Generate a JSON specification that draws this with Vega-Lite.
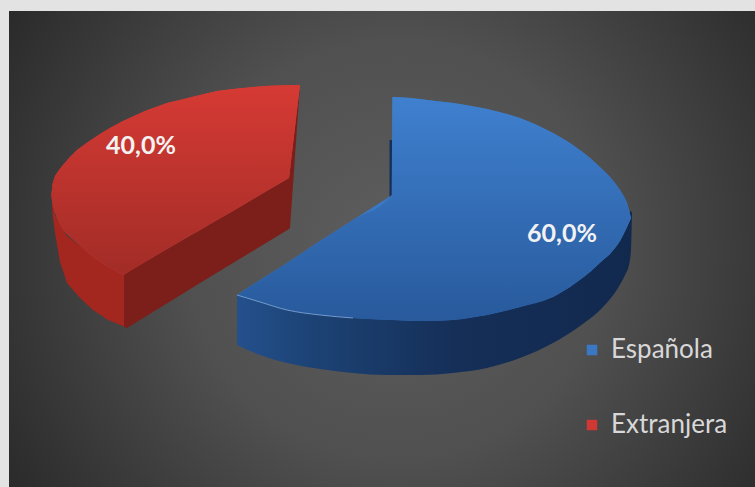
{
"$schema":"https://vega.github.io/schema/vega-lite/v6.json",
"width":746,"height":476,"autosize":"none",
"padding":{"left":9,"top":11,"right":0,"bottom":0},
"background":"#e3e3e3",
"view":{"stroke":null,"fill":{"gradient":"radial","x1":0.52,"y1":0.5,"r1":0,"x2":0.52,"y2":0.5,"r2":0.63,"stops":[{"offset":0,"color":"#5e5e5e"},{"offset":0.45,"color":"#505050"},{"offset":1,"color":"#282828"}]}},
"datasets":{
"ladoAzul":[{"x":228,"y":192,"y2":142},{"x":251,"y":189,"y2":132},{"x":278,"y":187,"y2":124},{"x":311,"y":182,"y2":118},{"x":344,"y":177,"y2":114},{"x":378,"y":174,"y2":112},{"x":411,"y":172,"y2":112},{"x":444,"y":173,"y2":114},{"x":478,"y":177,"y2":119},{"x":511,"y":187,"y2":129},{"x":544,"y":197,"y2":144},{"x":571,"y":212,"y2":161},{"x":594,"y":232,"y2":180},{"x":609,"y":252,"y2":199},{"x":616,"y":267,"y2":212},{"x":620,"y":274,"y2":222},{"x":622,"y":276,"y2":237},{"x":623,"y":274,"y2":274}],
"cantoAzul":[{"x":380.5,"y":347,"y2":290},{"x":383,"y":347,"y2":290}],
"ladoRojoIzq":[{"x":43,"y":287,"y2":282},{"x":44,"y":282,"y2":269},{"x":46,"y":272,"y2":254},{"x":51,"y":262,"y2":225},{"x":58,"y":251,"y2":204},{"x":71,"y":241,"y2":189},{"x":84,"y":232,"y2":177},{"x":99,"y":222,"y2":167},{"x":114,"y":212,"y2":161},{"x":116,"y":213,"y2":160}],
"ladoRojoDer":[{"x":115,"y":212,"y2":160},{"x":118,"y":215,"y2":159},{"x":191,"y":257,"y2":204},{"x":280,"y":309,"y2":258},{"x":281,"y":317,"y2":259},{"x":286,"y":367,"y2":331},{"x":291,"y":402,"y2":402}],
"brillo":[{"x":228,"y":192},{"x":251,"y":185},{"x":278,"y":177},{"x":311,"y":172},{"x":344,"y":169}],
"superficie":[
{"serie":"Española","x":228,"y":192,"y2":192},{"serie":"Española","x":251,"y":207,"y2":185},{"serie":"Española","x":278,"y":224,"y2":177},{"serie":"Española","x":311,"y":246,"y2":172},{"serie":"Española","x":344,"y":267,"y2":169},{"serie":"Española","x":383,"y":292,"y2":167},{"serie":"Española","x":383.5,"y":390,"y2":167},{"serie":"Española","x":411,"y":388,"y2":166},{"serie":"Española","x":418,"y":387,"y2":166},{"serie":"Española","x":444,"y":384,"y2":167},{"serie":"Española","x":478,"y":378,"y2":172},{"serie":"Española","x":511,"y":369,"y2":180},{"serie":"Española","x":544,"y":354,"y2":190},{"serie":"Española","x":561,"y":344,"y2":200},{"serie":"Española","x":581,"y":329,"y2":215},{"serie":"Española","x":594,"y":317,"y2":227},{"serie":"Española","x":601,"y":310,"y2":233},{"serie":"Española","x":611,"y":297,"y2":246},{"serie":"Española","x":618,"y":284,"y2":260},{"serie":"Española","x":622,"y":269,"y2":269},
{"serie":"Extranjera","x":42.5,"y":293,"y2":290},{"serie":"Extranjera","x":43.5,"y":303,"y2":284},{"serie":"Extranjera","x":46,"y":311,"y2":274},{"serie":"Extranjera","x":50,"y":317,"y2":264},{"serie":"Extranjera","x":54,"y":322,"y2":257},{"serie":"Extranjera","x":61,"y":330,"y2":250},{"serie":"Extranjera","x":68,"y":337,"y2":244},{"serie":"Extranjera","x":79,"y":345,"y2":234},{"serie":"Extranjera","x":91,"y":353,"y2":225},{"serie":"Extranjera","x":101,"y":359,"y2":219},{"serie":"Extranjera","x":114,"y":366,"y2":212},{"serie":"Extranjera","x":136,"y":376,"y2":225},{"serie":"Extranjera","x":158,"y":384,"y2":238},{"serie":"Extranjera","x":175,"y":388,"y2":248},{"serie":"Extranjera","x":191,"y":392,"y2":257},{"serie":"Extranjera","x":208,"y":396,"y2":267},{"serie":"Extranjera","x":224,"y":398,"y2":276},{"serie":"Extranjera","x":256,"y":401,"y2":295},{"serie":"Extranjera","x":280,"y":402,"y2":309},{"serie":"Extranjera","x":291,"y":402,"y2":402}],
"etiquetas":[{"serie":"Española","valor":60,"texto":"60,0%","x":553,"y":253},{"serie":"Extranjera","valor":40,"texto":"40,0%","x":132,"y":341}]
},
"encoding":{
"x":{"field":"x","type":"quantitative","scale":{"domain":[0,746]},"axis":null},
"y":{"field":"y","type":"quantitative","scale":{"domain":[0,476]},"axis":null}
},
"layer":[
{"data":{"name":"ladoAzul"},"mark":{"type":"area","interpolate":"monotone","fill":{"gradient":"linear","x1":0,"y1":0,"x2":1,"y2":0,"stops":[{"offset":0,"color":"#24508c"},{"offset":0.2,"color":"#1c4274"},{"offset":0.55,"color":"#152f58"},{"offset":1,"color":"#12294e"}]}},"encoding":{"y2":{"field":"y2"}}},
{"data":{"name":"cantoAzul"},"mark":{"type":"area","fill":"#143058"},"encoding":{"y2":{"field":"y2"}}},
{"data":{"name":"ladoRojoIzq"},"mark":{"type":"area","fill":"#a3261f"},"encoding":{"y2":{"field":"y2"}}},
{"data":{"name":"ladoRojoDer"},"mark":{"type":"area","fill":"#7c1f1a"},"encoding":{"y2":{"field":"y2"}}},
{"data":{"name":"superficie"},"mark":{"type":"area","interpolate":"linear"},"encoding":{"y2":{"field":"y2"},
"color":{"field":"serie","type":"nominal","scale":{"domain":["Española","Extranjera"],"range":["#3a78c4","#cf3833"]},
"legend":{"title":null,"orient":"none","legendX":570,"legendY":326,"symbolType":"square","symbolSize":110,"symbolStrokeWidth":0,"labelFont":"Lato","labelFontSize":26,"labelColor":"#d8d8d8","labelLimit":200,"rowPadding":49,"labelOffset":6}}}},
{"data":{"name":"superficie"},"transform":[{"filter":"datum.serie==='Española'"}],"mark":{"type":"area","interpolate":"monotone","fill":{"gradient":"linear","x1":0,"y1":0,"x2":0,"y2":1,"stops":[{"offset":0,"color":"#3f80cf"},{"offset":1,"color":"#285a9c"}]}},"encoding":{"y2":{"field":"y2"}}},
{"data":{"name":"superficie"},"transform":[{"filter":"datum.serie==='Extranjera'"}],"mark":{"type":"area","interpolate":"linear","fill":{"gradient":"linear","x1":0,"y1":0,"x2":0,"y2":1,"stops":[{"offset":0,"color":"#d63a34"},{"offset":1,"color":"#a22c27"}]}},"encoding":{"y2":{"field":"y2"}}},
{"data":{"name":"brillo"},"mark":{"type":"line","interpolate":"monotone","stroke":"#8fb4e0","strokeWidth":1,"opacity":0.7}},
{"data":{"name":"etiquetas"},"mark":{"type":"text","font":"Lato","fontSize":25,"fontWeight":"bold","color":"#f2f2f2"},"encoding":{"text":{"field":"texto"}}}
]
}
